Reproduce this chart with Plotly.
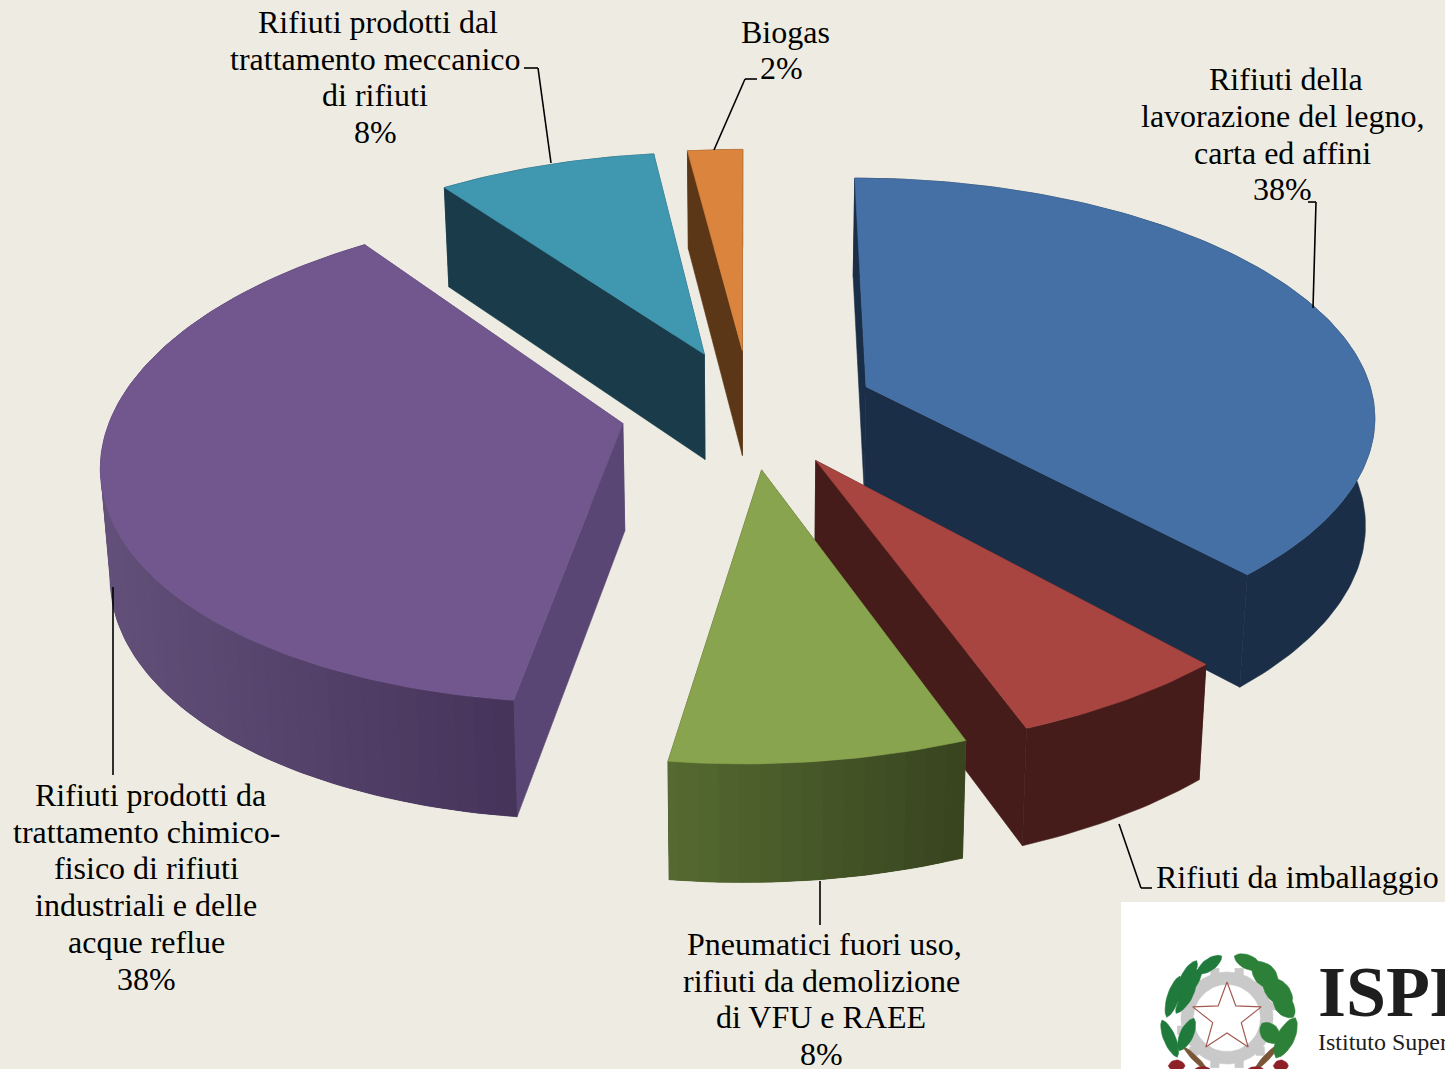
import numpy as np
import plotly.graph_objects as go

# ---- chart data (clockwise from 12 o'clock) ----
categories = ["Rifiuti della lavorazione del legno, carta ed affini",
              "Rifiuti da imballaggio",
              "Pneumatici fuori uso, rifiuti da demolizione di VFU e RAEE",
              "Rifiuti prodotti da trattamento chimico-fisico di rifiuti industriali e delle acque reflue",
              "Rifiuti prodotti dal trattamento meccanico di rifiuti",
              "Biogas"]
values = [38, 6, 8, 38, 8, 2]

top_colors = ["#4470A6", "#A84541", "#89A44E", "#71578D", "#4097B0", "#DB843D"]
wall_left = ["#1B2E47", "#451C1A", "#566B31", "#62507A", "#1A3C4A", "#5B3718"]
wall_right = ["#1B2E47", "#451C1A", "#38451F", "#46345B", "#1A3C4A", "#5B3718"]
radial_colors = ["#1B2E47", "#451C1A", "#3A4720", "#5A4674", "#1A3C4A", "#5B3718"]
draw_order = [5, 4, 3, 0, 1, 2]

# label lines: text, x, y
label_lines = [
    ("Rifiuti prodotti dal", 378, 22), ("trattamento meccanico", 375, 59), ("di rifiuti", 375, 95), ("8%", 375, 132),
    ("Biogas", 785, 32), ("2%", 781, 68),
    ("Rifiuti della", 1286, 79), ("lavorazione del legno,", 1282, 116), ("carta ed affini", 1282, 153), ("38%", 1282, 189),
    ("Rifiuti da imballaggio", 1297, 877),
    ("Pneumatici fuori uso,", 824, 944), ("rifiuti da demolizione", 821, 981), ("di VFU e RAEE", 821, 1017), ("8%", 821, 1054),
    ("Rifiuti prodotti da", 150, 795), ("trattamento chimico-", 146, 832), ("fisico di rifiuti", 146, 868),
    ("industriali e delle", 146, 905), ("acque reflue", 146, 942), ("38%", 146, 979),
]
leaders = [
    [(538, 68), (524, 68)], [(538, 68), (551, 163)],
    [(757, 79), (745, 79)], [(745, 79), (714, 150)],
    [(1308, 202), (1316, 202)], [(1316, 202), (1313, 308)],
    [(1119, 824), (1141, 888)], [(1141, 888), (1152, 888)],
    [(820, 881), (820, 925)],
    [(113, 587), (113, 775)],
]

# ---- projection of the exploded disc ----
CX, CY, A, B, P, EXPL = 748.0, 408.5, 510.0, 240.0, 0.126, 0.25
SHRINK, DEPTH = 0.985, 107.0
BG = "#EEECE2"


def project(X, Y):
    w = 1 - P * Y
    return CX + A * X / w - 10 * Y - 7 * Y ** 2, CY + B * Y / w, w


def bottom(x, y, w):
    return CX + (x - CX) * SHRINK, y + DEPTH * w ** -0.6


def lerp(c1, c2, t):
    a = [int(c1[i:i + 2], 16) for i in (1, 3, 5)]
    b = [int(c2[i:i + 2], 16) for i in (1, 3, 5)]
    return "rgb(%d,%d,%d)" % tuple(round(u + (v - u) * t) for u, v in zip(a, b))


def poly(fig, xs, ys, color, lw=0.6):
    fig.add_trace(go.Scatter(x=list(xs), y=list(ys), mode="lines", fill="toself", fillcolor=color,
                             line=dict(color=color, width=lw), hoverinfo="skip", showlegend=False))


fig = go.Figure()
edges = np.cumsum([0] + values) / sum(values) * 360.0

for i in draw_order:
    t0, t1 = edges[i], edges[i + 1]
    mid = np.radians((t0 + t1) / 2)
    ex, ey = EXPL * np.sin(mid), -EXPL * np.cos(mid)
    th = np.radians(np.arange(t0, t1 + 0.001, 1.0))
    if th[-1] < np.radians(t1):
        th = np.append(th, np.radians(t1))
    x, y, w = project(ex + np.sin(th), ey - np.cos(th))
    ax, ay, aw = project(np.array([ex]), np.array([ey]))
    xb, yb = bottom(x, y, w)
    axb, ayb = bottom(ax, ay, aw)

    # radial walls
    for k in (0, -1):
        poly(fig, [ax[0], x[k], xb[k], axb[0], ax[0]], [ay[0], y[k], yb[k], ayb[0], ay[0]], radial_colors[i])
    # rim wall
    poly(fig, [*x, *xb[::-1], x[0]], [*y, *yb[::-1], y[0]], lerp(wall_left[i], wall_right[i], 0.5))
    if wall_left[i] != wall_right[i]:
        # shaded strip by strip, each overlapping the next
        n = len(th)
        for j in range(0, n - 1, 2):
            k = min(j + 4, n - 1)
            c = lerp(wall_left[i], wall_right[i], (x[j] - x.min()) / (x.max() - x.min()))
            poly(fig, [*x[j:k + 1], *xb[j:k + 1][::-1], x[j]], [*y[j:k + 1], *yb[j:k + 1][::-1], y[j]], c, 0)
    # top face
    poly(fig, [ax[0], *x, ax[0]], [ay[0], *y, ay[0]], top_colors[i])

# ---- logo block ----
gear_x, gear_y = 1227, 1018
teeth = np.radians(np.arange(0, 360, 30) + 15)
fig.add_trace(go.Scatter(x=gear_x + 47 * np.cos(teeth), y=gear_y + 47 * np.sin(teeth), mode="markers",
                         marker=dict(symbol="square", size=9, color="#C9C9C9"), hoverinfo="skip", showlegend=False))
ring = np.radians(np.arange(0, 361, 5))
poly(fig, gear_x + 46 * np.cos(ring), gear_y + 46 * np.sin(ring), "#C9C9C9")
poly(fig, gear_x + 33 * np.cos(ring), gear_y + 33 * np.sin(ring), "#FFFFFF")
star_ang = np.radians(np.arange(0, 361, 36) - 90)
star_r = np.where(np.arange(11) % 2 == 0, 36, 15)
fig.add_trace(go.Scatter(x=gear_x + star_r * np.cos(star_ang), y=gear_y + star_r * np.sin(star_ang), mode="lines",
                         fill="toself", fillcolor="#FFFFFF", line=dict(color="#A25A50", width=1.2),
                         hoverinfo="skip", showlegend=False))


def leaf(x1, y1, x2, y2, wd, color):
    # coordinates given in the 3x crop of the logo block
    s = np.linspace(0, 1, 13)
    px, py = 1120 + (x1 + (x2 - x1) * s) / 3, 900 + (y1 + (y2 - y1) * s) / 3
    dx, dy = (y2 - y1), -(x2 - x1)
    ln = np.hypot(dx, dy)
    off = np.sin(np.pi * s) ** 0.6 * wd / 6 / ln
    poly(fig, [*(px + dx * off), *(px - dx * off)[::-1]], [*(py + dy * off), *(py - dy * off)[::-1]], color)


stem, olive, oak, red = "#7A5538", "#1F7A3C", "#2C8038", "#8E2028"
for l in [(190, 440, 265, 515, 16), (480, 430, 400, 515, 18)]:
    leaf(*l, stem)
for l in [(145, 497, 195, 497, 34), (460, 497, 505, 497, 34), (225, 507, 270, 507, 14), (385, 507, 430, 507, 14)]:
    leaf(*l, red)
for l in [(232, 220, 305, 168, 36), (180, 265, 230, 182, 34), (172, 305, 245, 205, 38), (140, 352, 180, 228, 36),
          (168, 340, 225, 255, 30), (126, 360, 172, 472, 36), (178, 452, 222, 355, 40)]:
    leaf(*l, olive)
for l in [(343, 168, 425, 205, 42), (400, 188, 470, 262, 64), (432, 238, 515, 312, 66), (465, 282, 520, 352, 54),
          (426, 370, 472, 428, 54), (468, 474, 526, 353, 52), (470, 260, 495, 330, 50)]:
    leaf(*l, oak)

annotations = [dict(x=x, y=y, text=t, showarrow=False, xanchor="center", yanchor="middle",
                    font=dict(family="Liberation Serif", size=32, color="#000000"))
               for t, x, y in label_lines]
annotations += [
    dict(x=1316, y=992, text="<b>ISPRA</b>", showarrow=False, xanchor="left", yanchor="middle",
         font=dict(family="Liberation Serif", size=72, color="#1E1E1E")),
    dict(x=1316, y=1042, text="Istituto Superiore per la Protezione", showarrow=False, xanchor="left", yanchor="middle",
         font=dict(family="Liberation Serif", size=24, color="#1E1E1E")),
    dict(x=1316, y=1070, text="e la Ricerca Ambientale", showarrow=False, xanchor="left", yanchor="middle",
         font=dict(family="Liberation Serif", size=24, color="#1E1E1E")),
]

shapes = [dict(type="rect", x0=1121, y0=902, x1=1445, y1=1069, fillcolor="#FFFFFF", line=dict(width=0), layer="below")]
shapes += [dict(type="line", x0=a[0], y0=a[1], x1=b[0], y1=b[1], line=dict(color="#000000", width=1.6), layer="above")
           for a, b in leaders]

fig.update_layout(
    width=1445, height=1069, margin=dict(l=0, r=0, t=0, b=0), autosize=False,
    paper_bgcolor=BG, plot_bgcolor=BG, showlegend=False,
    xaxis=dict(range=[0, 1445], visible=False, fixedrange=True),
    yaxis=dict(range=[1069, 0], visible=False, fixedrange=True),
    annotations=annotations, shapes=shapes,
)
fig.write_html("out.html", config={"displayModeBar": False},
               post_script="document.body.style.margin='0';document.body.style.overflow='hidden';")
